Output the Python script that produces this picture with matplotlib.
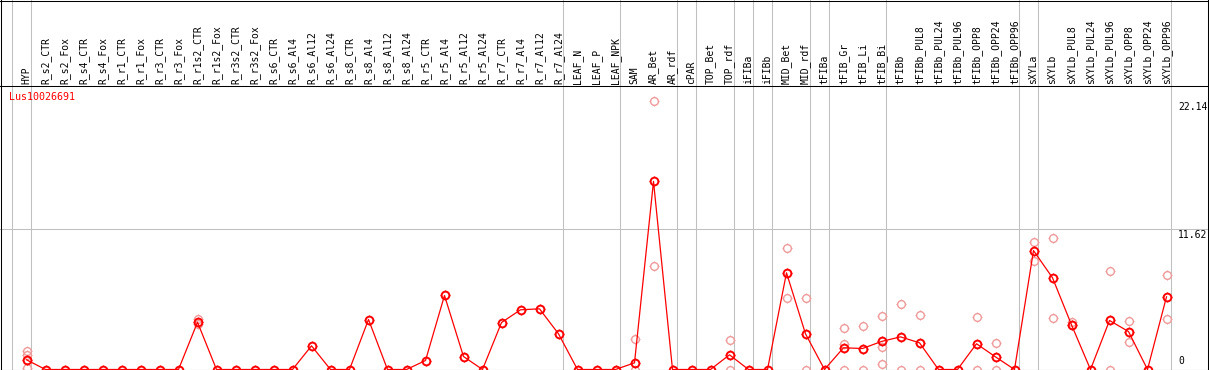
import matplotlib
matplotlib.use("Agg")
import matplotlib.pyplot as plt
from matplotlib.path import Path
import numpy as np

labels = ["HYP", "R_s2_CTR", "R_s2_Fox", "R_s4_CTR", "R_s4_Fox", "R_r1_CTR", "R_r1_Fox",
          "R_r3_CTR", "R_r3_Fox", "R_r1s2_CTR", "R_r1s2_Fox", "R_r3s2_CTR", "R_r3s2_Fox",
          "R_s6_CTR", "R_s6_Al4", "R_s6_Al12", "R_s6_Al24", "R_s8_CTR", "R_s8_Al4", "R_s8_Al12",
          "R_s8_Al24", "R_r5_CTR", "R_r5_Al4", "R_r5_Al12", "R_r5_Al24", "R_r7_CTR", "R_r7_Al4",
          "R_r7_Al12", "R_r7_Al24", "LEAF_N", "LEAF_P", "LEAF_NPK", "SAM", "AR_Bet", "AR_rdf",
          "cPAR", "TOP_Bet", "TOP_rdf", "iFIBa", "iFIBb", "MID_Bet", "MID_rdf", "tFIBa",
          "tFIB_Gr", "tFIB_Li", "tFIB_Bi", "tFIBb", "tFIBb_PUL8", "tFIBb_PUL24", "tFIBb_PUL96",
          "tFIBb_OPP8", "tFIBb_OPP24", "tFIBb_OPP96", "sXYLa", "sXYLb", "sXYLb_PUL8",
          "sXYLb_PUL24", "sXYLb_PUL96", "sXYLb_OPP8", "sXYLb_OPP24", "sXYLb_OPP96"]

means = [0.8, 0, 0, 0, 0, 0, 0, 0, 0, 3.9, 0, 0, 0, 0, 0, 1.95, 0, 0, 4.12, 0,
         0, 0.74, 6.1, 1.07, 0, 3.87, 4.92, 5.0, 2.94, 0, 0, 0, 0.55, 15.5, 0,
         0, 0, 1.21, 0, 0, 7.97, 2.94, 0, 1.79, 1.73, 2.31, 2.69, 2.2, 0, 0,
         2.12, 1.04, 0, 9.8, 7.56, 3.68, 0, 4.04, 3.13, 0, 5.99]

replicates = {
    0: [1.55, 1.2, 0.1],
    9: [4.15, 3.77],
    32: [2.55, 0.0],
    33: [22.14, 8.57],
    37: [2.45, 0.0],
    40: [10.03, 5.91],
    41: [5.91, 0.0],
    43: [3.43, 2.14, 0.0],
    44: [3.6, 0.0],
    45: [4.43, 1.87, 0.47],
    46: [5.41, 0.0],
    47: [4.5, 0.0],
    50: [4.34, 0.0],
    51: [2.2, 0.0],
    53: [10.52, 8.96],
    54: [10.85, 4.26],
    55: [3.9, 3.63],
    57: [8.13, 0.0],
    58: [3.96, 2.28],
    60: [7.8, 4.2],
}

separators_after = [-1, 0, 28, 31, 34, 35, 37, 38, 39, 41, 42, 45, 52, 53, 60]
gene = "Lus10026691"
max_val = 22.14
mid_val = 11.62

W, H = 1209, 370
fig = plt.figure(figsize=(W / 100, H / 100), dpi=100)
ax = fig.add_axes([0, 0, 1, 1])
ax.set_axis_off()

x0 = -26.5 / 19
x1 = (W - 26.5) / 19
k = 141.0 / mid_val
ax.set_xlim(x0, x1)
ax.set_ylim(-0.5 / k, 369.5 / k)

def ypix(p):
    return (H - p) / H

def xpix(p):
    return p / W

gray = "#c0c0c0"
lw1 = 0.75

for s in separators_after:
    ax.axvline(s + 4.5 / 19, color=gray, lw=lw1, zorder=1)

ax.axhline(mid_val, color=gray, lw=lw1, zorder=1)

ax.plot([0, 1], [ypix(0.5)] * 2, transform=ax.transAxes, color="black", lw=lw1, clip_on=False, zorder=5)
ax.plot([0, 1], [ypix(85.5)] * 2, transform=ax.transAxes, color="black", lw=lw1, clip_on=False, zorder=5)
ax.axhline(0, color="black", lw=lw1, zorder=5)
ax.plot([xpix(0.5)] * 2, [0, 1], transform=ax.transAxes, color="black", lw=lw1, clip_on=False, zorder=5)
ax.plot([xpix(1207.5)] * 2, [0, 1], transform=ax.transAxes, color="black", lw=lw1, clip_on=False, zorder=5)

font = "DejaVu Sans Mono"
for i, lab in enumerate(labels):
    ax.text(i, ypix(83.5), lab, transform=ax.get_xaxis_transform(), rotation=90,
            ha="center", va="bottom", fontsize=7, family=font, color="black")

ax.text(xpix(9), ypix(97), gene, transform=ax.transAxes, ha="left", va="center",
        fontsize=7.2, family=font, color="red")

ax.text(xpix(1178), ypix(101.5), f"{max_val:.2f}", transform=ax.transAxes, ha="left", va="top",
        fontsize=7, family=font, color="black")
ax.text(xpix(1178), ypix(229.5), f"{mid_val:.2f}", transform=ax.transAxes, ha="left", va="top",
        fontsize=7, family=font, color="black")
ax.text(xpix(1178), ypix(366), "0", transform=ax.transAxes, ha="left", va="bottom",
        fontsize=7, family=font, color="black")

# markers: a circle plus a separate thin "tick" marker
R_OUT = 1.4
ms_total = 7.8  # points, full extent of tick marker
tick_verts = [(0, 1.05), (0, R_OUT), (0, -1.05), (0, -R_OUT),
              (1.05, 0), (R_OUT, 0), (-1.05, 0), (-R_OUT, 0)]
tick_codes = [Path.MOVETO, Path.LINETO] * 4
ticks = Path(tick_verts, tick_codes)
circle_ms = ms_total / R_OUT  # diameter at circle stroke center

xs = np.arange(len(labels))
rx, ry = [], []
for i, vals in replicates.items():
    for v in vals:
        rx.append(i)
        ry.append(v)
light = "#f09a9a"
ax.plot(rx, ry, linestyle="none", marker="o", markersize=circle_ms, markerfacecolor="none",
        markeredgecolor=light, markeredgewidth=1.0, zorder=3)
ax.plot(rx, ry, linestyle="none", marker=ticks, markersize=ms_total,
        markeredgecolor=light, markeredgewidth=0.8, zorder=3)

ax.plot(xs, means, color="red", lw=0.9, zorder=4)
ax.plot(xs, means, linestyle="none", marker="o", markersize=circle_ms, markerfacecolor="none",
        markeredgecolor="red", markeredgewidth=1.4, zorder=6)
ax.plot(xs, means, linestyle="none", marker=ticks, markersize=ms_total,
        markeredgecolor="red", markeredgewidth=0.8, zorder=6)

fig.savefig("out.png", dpi=100)
